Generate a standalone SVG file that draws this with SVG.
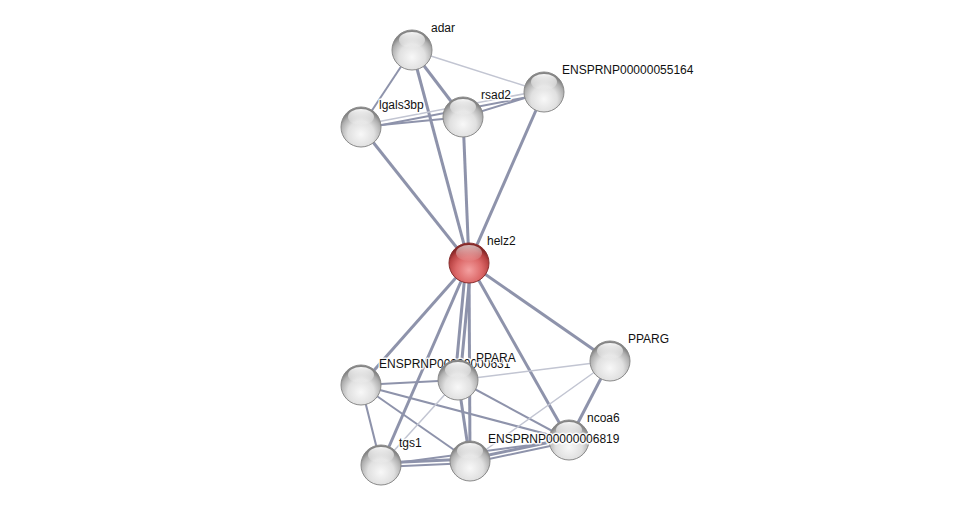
<svg xmlns="http://www.w3.org/2000/svg" width="975" height="510" viewBox="0 0 975 510">
<defs>
<radialGradient id="gg" cx="50%" cy="68%" r="60%">
<stop offset="0" stop-color="#f8f8f8"/>
<stop offset="0.55" stop-color="#e0e0e0"/>
<stop offset="0.85" stop-color="#b0b0b0"/>
<stop offset="1" stop-color="#858585"/>
</radialGradient>
<radialGradient id="rg" cx="50%" cy="68%" r="60%">
<stop offset="0" stop-color="#f4a0a0"/>
<stop offset="0.55" stop-color="#dc6868"/>
<stop offset="0.85" stop-color="#b84242"/>
<stop offset="1" stop-color="#862828"/>
</radialGradient>
<linearGradient id="hl" x1="0" y1="0" x2="0" y2="1">
<stop offset="0" stop-color="#fff" stop-opacity="0.95"/>
<stop offset="1" stop-color="#fff" stop-opacity="0.05"/>
</linearGradient>
<g id="ball">
<circle r="20" fill="url(#gg)" stroke="#8a8a8a" stroke-width="1"/>
<ellipse cx="0" cy="-10" rx="13" ry="8" fill="url(#hl)"/>
</g>
<g id="rball">
<circle r="20" fill="url(#rg)" stroke="#8a3030" stroke-width="1"/>
<ellipse cx="0" cy="-10" rx="13" ry="8" fill="url(#hl)" opacity="0.7"/>
</g>
</defs>
<style>
.e{stroke:#8e93ab;fill:none}
.t{stroke-width:3}
.m{stroke-width:2}
.l{stroke:#c2c5d2;stroke-width:1.5}
text{font-family:"Liberation Sans",Arial,sans-serif;font-size:12px;fill:#111;stroke:#fff;stroke-width:3px;stroke-opacity:0.85;paint-order:stroke;stroke-linejoin:round}
</style>
<rect width="975" height="510" fill="#fff"/>
<g id="edges">
<line class="e l" x1="412" y1="50" x2="544" y2="92"/>
<line class="e m" x1="412" y1="50" x2="361" y2="127"/>
<line class="e t" x1="412" y1="50" x2="463" y2="117"/>
<line class="e t" x1="412" y1="50" x2="469" y2="263"/>
<line class="e m" x1="361" y1="127" x2="463" y2="117"/>
<line class="e l" x1="361" y1="125" x2="544" y2="90"/>
<line class="e m" x1="361" y1="129" x2="544" y2="94"/>
<line class="e m" x1="463" y1="117" x2="544" y2="92"/>
<line class="e t" x1="361" y1="127" x2="469" y2="263"/>
<line class="e t" x1="463" y1="117" x2="469" y2="263"/>
<line class="e t" x1="544" y1="92" x2="469" y2="263"/>
<line class="e t" x1="469" y1="263" x2="361" y2="385"/>
<line class="e t" x1="466" y1="263" x2="455" y2="380"/>
<line class="e t" x1="471" y1="263" x2="460" y2="380"/>
<line class="e t" x1="469" y1="263" x2="381" y2="465"/>
<line class="e t" x1="469" y1="263" x2="470" y2="461"/>
<line class="e t" x1="469" y1="263" x2="569" y2="440"/>
<line class="e t" x1="469" y1="263" x2="610" y2="361"/>
<line class="e m" x1="361" y1="385" x2="458" y2="380"/>
<line class="e l" x1="458" y1="380" x2="610" y2="361"/>
<line class="e m" x1="361" y1="385" x2="381" y2="465"/>
<line class="e m" x1="361" y1="385" x2="470" y2="461"/>
<line class="e m" x1="361" y1="385" x2="569" y2="440"/>
<line class="e l" x1="458" y1="380" x2="381" y2="465"/>
<line class="e t" x1="458" y1="380" x2="470" y2="461"/>
<line class="e m" x1="458" y1="380" x2="569" y2="440"/>
<line class="e t" x1="610" y1="361" x2="569" y2="440"/>
<line class="e l" x1="610" y1="361" x2="470" y2="461"/>
<line class="e t" x1="381" y1="463" x2="470" y2="459"/>
<line class="e m" x1="381" y1="467" x2="470" y2="463"/>
<line class="e m" x1="381" y1="465" x2="569" y2="440"/>
<line class="e t" x1="470" y1="459" x2="569" y2="438"/>
<line class="e m" x1="470" y1="463" x2="569" y2="442"/>
</g>
<g id="n-adar"><use href="#ball" x="412" y="50"/><text x="431" y="32">adar</text></g>
<g id="n-lgals3bp"><use href="#ball" x="361" y="127"/><text x="379" y="109">lgals3bp</text></g>
<g id="n-rsad2"><use href="#ball" x="463" y="117"/><text x="481" y="99">rsad2</text></g>
<g id="n-ENSPRNP00000055164"><use href="#ball" x="544" y="92"/><text x="562" y="74">ENSPRNP00000055164</text></g>
<g id="n-helz2"><use href="#rball" x="469" y="263"/><text x="487" y="245">helz2</text></g>
<g id="n-PPARG"><use href="#ball" x="610" y="361"/><text x="628" y="343">PPARG</text></g>
<g id="n-ENSPRNP00000000631"><use href="#ball" x="361" y="385"/><text x="379" y="368">ENSPRNP00000000631</text></g>
<g id="n-PPARA"><use href="#ball" x="458" y="380"/><text x="476" y="362">PPARA</text></g>
<g id="n-ncoa6"><use href="#ball" x="569" y="440"/><text x="587" y="422">ncoa6</text></g>
<g id="n-ENSPRNP00000006819"><use href="#ball" x="470" y="461"/><text x="488" y="443">ENSPRNP00000006819</text></g>
<g id="n-tgs1"><use href="#ball" x="381" y="465"/><text x="399" y="447">tgs1</text></g>
</svg>
